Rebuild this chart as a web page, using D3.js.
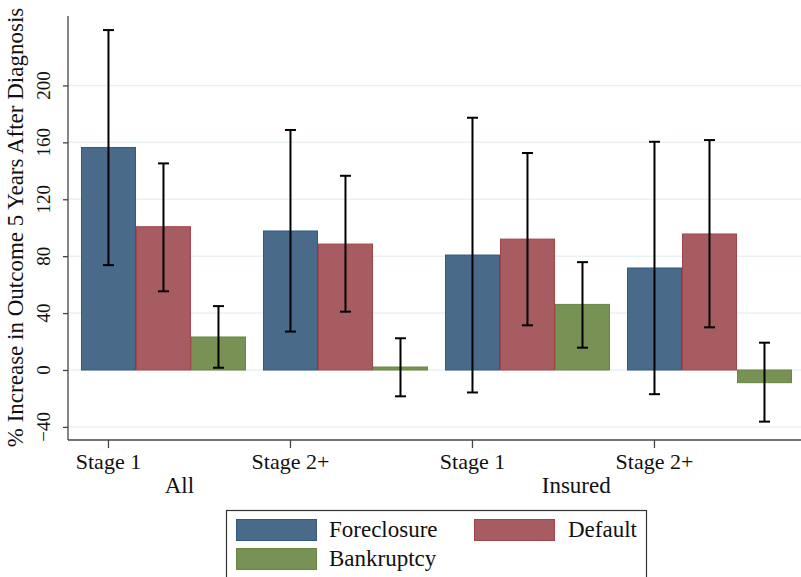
<!DOCTYPE html>
<html>
<head>
<meta charset="utf-8">
<script src="https://cdn.jsdelivr.net/npm/d3@7/dist/d3.min.js"></script>
<style>
  html, body { margin: 0; padding: 0; background: #fff; }
  svg { display: block; }
  text { font-family: "Liberation Serif", "Times New Roman", serif; fill: #111; }
</style>
</head>
<body>
<svg id="chart" width="801" height="577"></svg>
<script>
// ---- Data ----
const groups = ["All Stage 1", "All Stage 2+", "Insured Stage 1", "Insured Stage 2+"];
const tickLabels = ["Stage 1", "Stage 2+", "Stage 1", "Stage 2+"];
const outerLabels = ["All", "Insured"];
const series = ["Foreclosure", "Default", "Bankruptcy"];

const foreclosure   = [156.4, 97.7, 80.8, 71.7];
const foreclosureLo = [73.7, 27.0, -15.8, -17.0];
const foreclosureHi = [238.9, 168.7, 177.3, 160.4];

const defaultVals   = [100.7, 88.5, 92.0, 95.6];
const defaultLo     = [55.3, 41.0, 31.4, 30.0];
const defaultHi     = [145.2, 136.5, 152.5, 161.6];

const bankruptcy    = [23.2, 2.1, 46.1, -8.9];
const bankruptcyLo  = [1.6, -18.5, 15.7, -36.3];
const bankruptcyHi  = [44.9, 22.3, 75.8, 19.2];

const yTicks = [-40, 0, 40, 80, 120, 160, 200];
const yTitle = "% Increase in Outcome 5 Years After Diagnosis";

const colors  = { Foreclosure: "#4a6a8a", Default: "#a65c60", Bankruptcy: "#789154" };
const strokes = { Foreclosure: "#2f5983", Default: "#a2444a", Bankruptcy: "#68873f" };

const seriesData = {
  Foreclosure: { v: foreclosure, lo: foreclosureLo, hi: foreclosureHi },
  Default:     { v: defaultVals, lo: defaultLo, hi: defaultHi },
  Bankruptcy:  { v: bankruptcy, lo: bankruptcyLo, hi: bankruptcyHi }
};

// ---- Layout ----
const svg = d3.select("#chart");
const plotLeft = 68, plotRight = 801, plotTop = 16, plotBottom = 440;

const y = d3.scaleLinear().domain([-49.2, 248.8]).range([plotBottom, plotTop]);
const x0 = d3.scaleBand().domain(groups).range([plotLeft, plotRight])
  .paddingInner(0.0934).paddingOuter(0.0604).align(0.59);
const x1 = d3.scaleBand().domain(series).range([0, x0.bandwidth()]).padding(0);

// gridlines
svg.append("g").selectAll("line").data(yTicks).join("line")
  .attr("x1", plotLeft).attr("x2", plotRight)
  .attr("y1", d => y(d)).attr("y2", d => y(d))
  .attr("stroke", "#eaf1f3").attr("stroke-width", 1.5);

// bars
const rows = [];
groups.forEach((g, i) => series.forEach(s => rows.push({
  g, s, v: seriesData[s].v[i], lo: seriesData[s].lo[i], hi: seriesData[s].hi[i]
})));

svg.append("g").selectAll("rect").data(rows).join("rect")
  .attr("x", d => x0(d.g) + x1(d.s) + 0.5)
  .attr("width", x1.bandwidth() - 1)
  .attr("y", d => Math.min(y(d.v), y(0)))
  .attr("height", d => Math.abs(y(d.v) - y(0)))
  .attr("fill", d => colors[d.s])
  .attr("stroke", d => strokes[d.s])
  .attr("stroke-width", 1);

// error bars
const eb = svg.append("g").attr("stroke", "#000").attr("stroke-width", 2);
const cx = d => x0(d.g) + x1(d.s) + x1.bandwidth() / 2;
eb.selectAll("line.v").data(rows).join("line").attr("class", "v")
  .attr("x1", cx).attr("x2", cx)
  .attr("y1", d => y(d.lo)).attr("y2", d => y(d.hi));
eb.selectAll("line.hi").data(rows).join("line").attr("class", "hi")
  .attr("x1", d => cx(d) - 5.5).attr("x2", d => cx(d) + 5.5)
  .attr("y1", d => y(d.hi)).attr("y2", d => y(d.hi));
eb.selectAll("line.lo").data(rows).join("line").attr("class", "lo")
  .attr("x1", d => cx(d) - 5.5).attr("x2", d => cx(d) + 5.5)
  .attr("y1", d => y(d.lo)).attr("y2", d => y(d.lo));

// y axis
const yAxis = svg.append("g").attr("transform", `translate(${plotLeft},0)`)
  .call(d3.axisLeft(y).tickValues(yTicks).tickSize(5).tickFormat(""));
yAxis.select(".domain").attr("d", `M0,${plotTop}V${plotBottom}`).attr("stroke", "#444").attr("stroke-width", 1.3);
yAxis.selectAll(".tick line").attr("stroke", "#444").attr("stroke-width", 1.3);

svg.append("g").selectAll("text").data(yTicks).join("text")
  .attr("transform", d => `translate(50,${y(d)}) rotate(-90)`)
  .attr("text-anchor", "middle")
  .style("font-size", "19px")
  .text(d => d < 0 ? "\u2212" + Math.abs(d) : d);

svg.append("text")
  .attr("transform", `translate(23,${(5 + 450) / 2}) rotate(-90)`)
  .attr("text-anchor", "middle")
  .style("font-size", "23px")
  .text(yTitle);

// x axis
const tickPos = groups.map(g => x0(g) + x1("Foreclosure") + x1.bandwidth() / 2);
svg.append("line").attr("x1", plotLeft).attr("x2", plotRight)
  .attr("y1", plotBottom).attr("y2", plotBottom)
  .attr("stroke", "#444").attr("stroke-width", 1.3);
svg.append("g").selectAll("line").data(tickPos).join("line")
  .attr("x1", d => d).attr("x2", d => d)
  .attr("y1", plotBottom).attr("y2", plotBottom + 8)
  .attr("stroke", "#444").attr("stroke-width", 1.3);
svg.append("g").selectAll("text").data(tickLabels).join("text")
  .attr("x", (d, i) => tickPos[i]).attr("y", 469)
  .attr("text-anchor", "middle").style("font-size", "22px")
  .text(d => d);

const outerPos = [tickPos[0] + 0.39 * (tickPos[1] - tickPos[0]),
                  tickPos[2] + 0.57 * (tickPos[3] - tickPos[2])];
svg.append("g").selectAll("text").data(outerLabels).join("text")
  .attr("x", (d, i) => outerPos[i]).attr("y", 493)
  .attr("text-anchor", "middle").style("font-size", "23px")
  .text(d => d);

// legend
const lg = svg.append("g");
lg.append("rect").attr("x", 226.5).attr("y", 510.5).attr("width", 420).attr("height", 90)
  .attr("fill", "#fff").attr("stroke", "#333").attr("stroke-width", 1.2);
const legendItems = [
  { s: "Foreclosure", sx: 236, sy: 519, tx: 329, ty: 537 },
  { s: "Default",     sx: 474, sy: 519, tx: 568, ty: 537 },
  { s: "Bankruptcy",  sx: 236, sy: 548, tx: 329, ty: 566 }
];
legendItems.forEach(it => {
  lg.append("rect").attr("x", it.sx + 0.5).attr("y", it.sy + 0.5).attr("width", 80).attr("height", 21)
    .attr("fill", colors[it.s]).attr("stroke", strokes[it.s]).attr("stroke-width", 1);
  lg.append("text").attr("x", it.tx).attr("y", it.ty).style("font-size", "23px").text(it.s);
});
</script>
</body>
</html>
